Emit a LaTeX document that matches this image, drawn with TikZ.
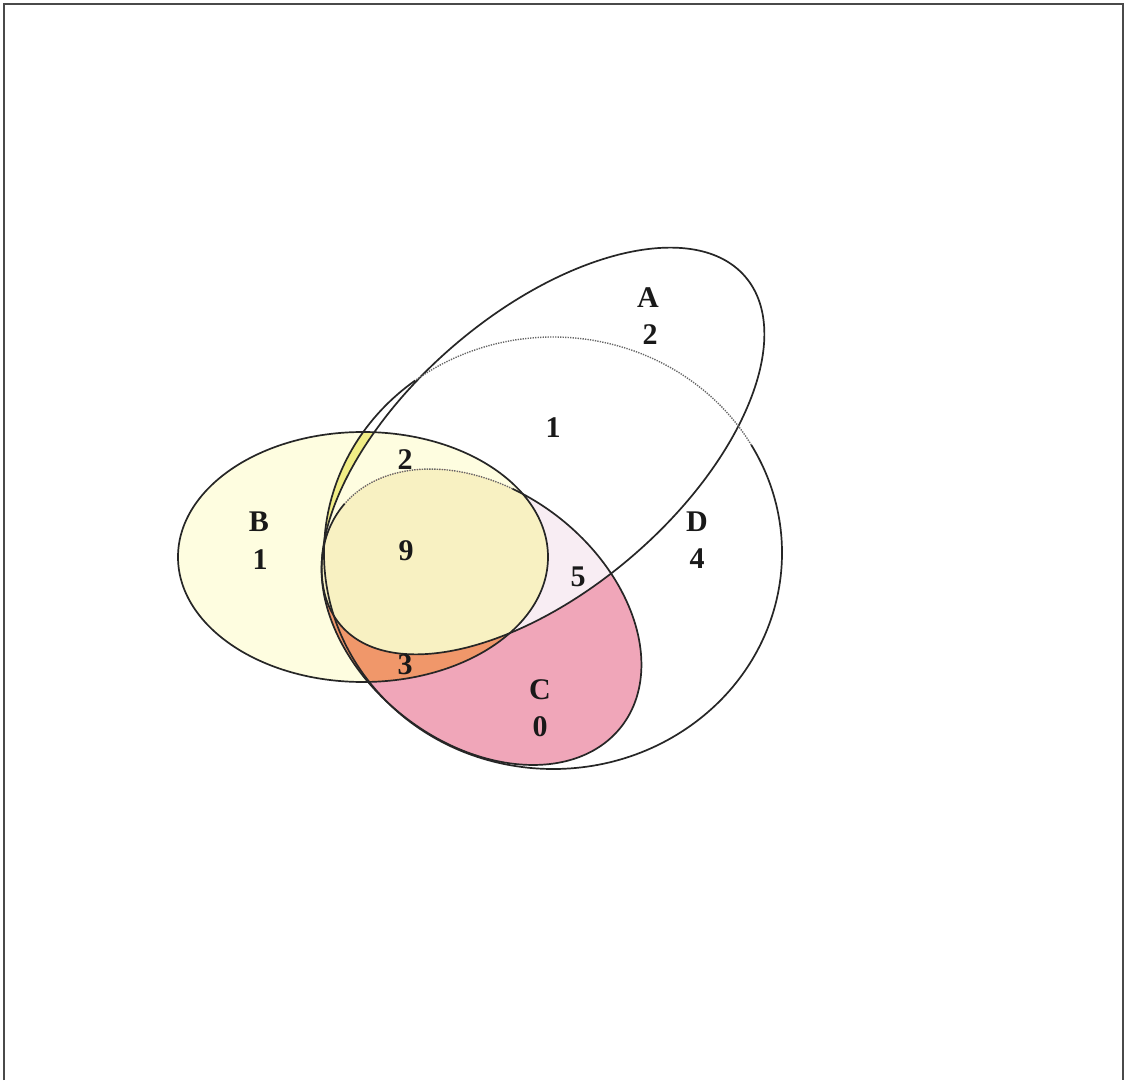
\documentclass[tikz,border=0pt]{standalone}
\usepackage{fontspec}
\setmainfont{Liberation Serif}
\definecolor{creamB}{HTML}{FEFDE0}
\definecolor{sliverY}{HTML}{F1EE86}
\definecolor{pinkC}{HTML}{F0A6B9}
\definecolor{lightFive}{HTML}{F8EDF3}
\definecolor{orangeThree}{HTML}{F0976A}
\definecolor{nineY}{HTML}{F8F1C2}
\definecolor{frameC}{HTML}{4A4A4A}
\begin{document}
\begin{tikzpicture}[x=1pt,y=1pt,
  outl/.style={line width=1.7pt, draw=black!85},
  dotl/.style={line width=1.4pt, draw=black!60, dash pattern=on 1.3pt off 1.2pt},
  lbl/.style={font=\fontsize{30}{31}\selectfont\bfseries, inner sep=0pt, text=black!90}]
\useasboundingbox (0,0) rectangle (1126,1080);
\fill[white] (0,0) rectangle (1126,1080);

% B fill
\fill[creamB] (363,523) ellipse [x radius=185pt, y radius=125pt];
% yellow sliver: B and D outside A (upper part)
\begin{scope}
  \clip (363,523) ellipse [x radius=185pt, y radius=125pt];
  \clip (0,520) rectangle (1126,1080);
  \fill[sliverY] (553,527) ellipse [x radius=229pt, y radius=216pt];
  \fill[creamB, rotate around={40.8:(543,629)}] (543,629) ellipse [x radius=267pt, y radius=138pt];
\end{scope}

% C fill and its sub-regions
\fill[pinkC, rotate around={-38.2:(481.5,463)}] (481.5,463) ellipse [x radius=177.7pt, y radius=126.1pt];
\begin{scope}
  \clip[rotate around={-38.2:(481.5,463)}] (481.5,463) ellipse [x radius=177.7pt, y radius=126.1pt];
  \fill[lightFive, rotate around={40.8:(543,629)}] (543,629) ellipse [x radius=267pt, y radius=138pt];
  \fill[orangeThree] (363,523) ellipse [x radius=185pt, y radius=125pt];
  \clip (363,523) ellipse [x radius=185pt, y radius=125pt];
  \fill[nineY, rotate around={40.8:(543,629)}] (543,629) ellipse [x radius=267pt, y radius=138pt];
\end{scope}

% outlines
\draw[outl] (363,523) ellipse [x radius=185pt, y radius=125pt];
\draw[outl, rotate around={40.8:(543,629)}] (543,629) ellipse [x radius=267pt, y radius=138pt];
\begin{scope}[shift={(481.5,463)}, rotate=-38.2]
  \draw[outl] (178:177.7pt and 126.1pt) arc[start angle=178, end angle=468, x radius=177.7pt, y radius=126.1pt];
  \draw[dotl] (108:177.7pt and 126.1pt) arc[start angle=108, end angle=178, x radius=177.7pt, y radius=126.1pt];
\end{scope}
\begin{scope}[shift={(553,527)}]
  \draw[outl] (127:229pt and 216pt) arc[start angle=127, end angle=390, x radius=229pt, y radius=216pt];
  \draw[dotl] (30:229pt and 216pt) arc[start angle=30, end angle=127, x radius=229pt, y radius=216pt];
\end{scope}

% labels
\node[lbl] (lA) at (648,782) {A};
\node[lbl] (nA) at (650,745) {2};
\node[lbl] (nAD) at (553,652) {1};
\node[lbl] (nABD) at (405,620) {2};
\node[lbl] (lB) at (259,558) {B};
\node[lbl] (nB) at (260,520) {1};
\node[lbl] (nNine) at (406,529) {9};
\node[lbl] (nFive) at (578,503) {5};
\node[lbl] (lD) at (697,558) {D};
\node[lbl] (nD) at (697,521) {4};
\node[lbl] (nThree) at (405,415) {3};
\node[lbl] (lC) at (540,390) {C};
\node[lbl] (nC) at (540,353) {0};

% frame
\draw[frameC, line width=2.2pt] (4,0) -- (4,1076) -- (1123,1076) -- (1123,0);
\end{tikzpicture}
\end{document}
